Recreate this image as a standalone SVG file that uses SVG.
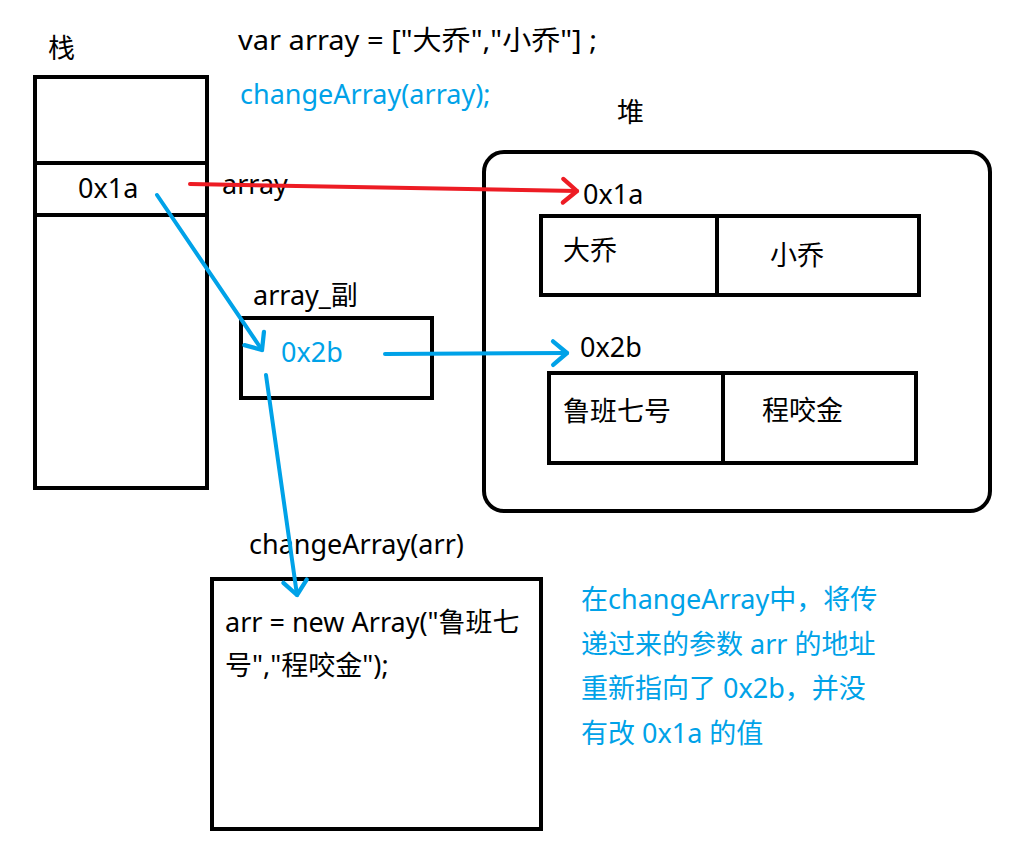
<svg xmlns="http://www.w3.org/2000/svg" width="1022" height="859" viewBox="0 0 1022 859">
<defs>
<style>
text{font-family:"Segoe UI","Noto Sans","Open Sans","Noto Sans CJK SC",sans-serif;font-size:27px;fill:#000}
.b{fill:#00a2e8}
.box{fill:none;stroke:#000;stroke-width:4}
.red{fill:none;stroke:#ed1c24;stroke-width:4;stroke-linecap:round}
.blue{fill:none;stroke:#00a2e8;stroke-width:4;stroke-linecap:round}
</style>
<marker id="ar" markerUnits="userSpaceOnUse" markerWidth="30" markerHeight="30" refX="0" refY="0" viewBox="-16 -14 20 28" orient="auto" overflow="visible">
<path d="M-13,-11 L0,0 L-13,11" fill="none" stroke="#ed1c24" stroke-width="4" stroke-linecap="round" stroke-linejoin="round"/>
</marker>
<marker id="ab" markerUnits="userSpaceOnUse" markerWidth="30" markerHeight="30" refX="0" refY="0" viewBox="-16 -14 20 28" orient="auto" overflow="visible">
<path d="M-13,-11 L0,0 L-13,11" fill="none" stroke="#00a2e8" stroke-width="4" stroke-linecap="round" stroke-linejoin="round"/>
</marker>
</defs>
<rect width="1022" height="859" fill="#fff"/>
<g id="code">
<text x="238" y="50" textLength="359" lengthAdjust="spacingAndGlyphs">var array = ["大乔","小乔"] ;</text>
<text x="240" y="104" class="b">changeArray(array);</text>
</g>
<g id="stack">
<text x="48" y="58" font-size="24">栈</text>
<rect class="box" x="35" y="77" width="172" height="411"/>
<line class="box" x1="35" y1="163" x2="207" y2="163"/>
<line class="box" x1="35" y1="215" x2="207" y2="215"/>
<text x="78" y="198">0x1a</text>
<text x="222" y="194">array</text>
</g>
<g id="heap">
<text x="617" y="122" font-size="24">堆</text>
<rect class="box" x="484" y="152" width="506" height="359" rx="20"/>
</g>
<g id="arr1">
<text x="583" y="204">0x1a</text>
<rect class="box" x="541" y="216" width="378" height="79"/>
<line class="box" x1="717" y1="216" x2="717" y2="295"/>
<text x="563" y="260" font-size="26">大乔</text>
<text x="770" y="265" font-size="26">小乔</text>
</g>
<g id="arr2">
<text x="580" y="357">0x2b</text>
<rect class="box" x="549" y="373" width="367" height="90"/>
<line class="box" x1="723" y1="373" x2="723" y2="463"/>
<text x="563" y="421" font-size="26">鲁班七号</text>
<text x="762" y="420" font-size="26">程咬金</text>
</g>
<g id="copy">
<text x="253" y="305">array_副</text>
<rect class="box" x="241" y="318" width="191" height="80"/>
<text x="281" y="362" class="b">0x2b</text>
</g>
<g id="func">
<text x="249" y="554">changeArray(arr)</text>
<rect class="box" x="212" y="579" width="329" height="250"/>
<text x="225" y="632">arr = new Array("鲁班七</text>
<text x="225" y="675">号","程咬金");</text>
</g>
<g id="note">
<text x="581" y="609" class="b">在changeArray中，将传</text>
<text x="581" y="654" class="b">递过来的参数 arr 的地址</text>
<text x="581" y="698" class="b">重新指向了 0x2b，并没</text>
<text x="581" y="743" class="b">有改 0x1a 的值</text>
</g>
<g id="connectors">
<path class="red" d="M190,184 L577,191" marker-end="url(#ar)"/>
<path class="blue" d="M385,354 L567,353" marker-end="url(#ab)"/>
<path class="blue" d="M157,195 L262,350" marker-end="url(#ab)"/>
<path class="blue" d="M266,375 L297,595" marker-end="url(#ab)"/>
</g>
</svg>
